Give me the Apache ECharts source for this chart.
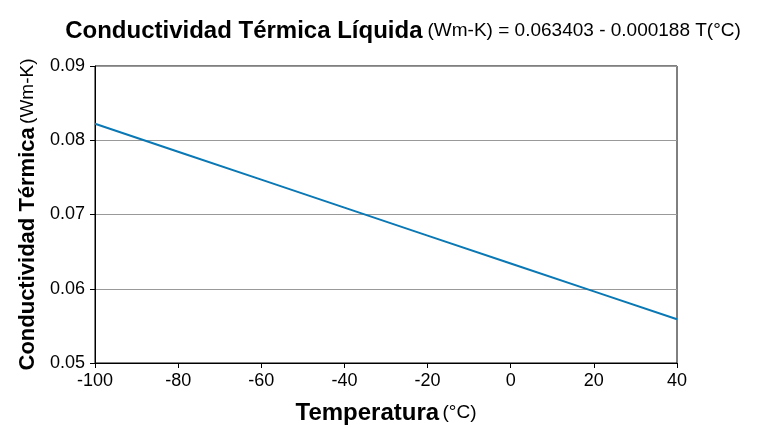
<!DOCTYPE html>
<html><head><meta charset="utf-8">
<script src="https://cdn.jsdelivr.net/npm/echarts@6/dist/echarts.min.js"></script>
<style>html,body{margin:0;padding:0;background:#fff}#c{width:761px;height:428px}</style>
</head><body><div id="c"></div>
<script>
const temps = [-100, -80, -60, -40, -20, 0, 20, 40];
const conductivity = [0.08222, 0.07846, 0.07469, 0.07092, 0.06716, 0.06340, 0.05964, 0.05589];
const xTicks = [-100, -80, -60, -40, -20, 0, 20, 40];
const yTicks = [0.05, 0.06, 0.07, 0.08, 0.09];

const FONT = "'Liberation Sans', Arial, sans-serif";
const chart = echarts.init(document.getElementById('c'));
chart.setOption({
  animation: false,
  textStyle: {fontFamily: FONT},
  title: {
    text: '{b|Conductividad Térmica Líquida} {n|(Wm-K) = 0.063403 - 0.000188 T(°C)}',
    left: 398, top: 14, textAlign: 'center',
    textStyle: {
      fontWeight: 'normal',
      rich: {
        b: {fontFamily: FONT, fontWeight: 'bold', fontSize: 24, color: '#000'},
        n: {fontFamily: FONT, fontWeight: 'normal', fontSize: 19, color: '#000'}
      }
    }
  },
  grid: {left: 95, right: 84, top: 66, bottom: 65, show: true, borderColor: '#000', borderWidth: 1,
    containLabel: false, outerBoundsMode: 'none'},
  xAxis: {
    type: 'value', min: -100, max: 40, interval: 20,
    axisLine: {show: true, onZero: false, lineStyle: {color: '#000', width: 1}},
    axisTick: {show: true, length: 5, lineStyle: {color: '#000'}},
    axisLabel: {color: '#000', fontSize: 18, fontFamily: FONT, margin: 9},
    splitLine: {show: false},
    name: '{b|Temperatura} {n|(°C)}',
    nameLocation: 'middle', nameGap: 38,
    nameTextStyle: {fontWeight: 'normal', rich: {
      b: {fontFamily: FONT, fontWeight: 'bold', fontSize: 24, color: '#000'},
      n: {fontFamily: FONT, fontWeight: 'normal', fontSize: 19, color: '#000'}
    }}
  },
  yAxis: {
    type: 'value', min: 0.05, max: 0.09, interval: 0.01,
    axisLine: {show: true, onZero: false, lineStyle: {color: '#000', width: 1}},
    axisTick: {show: true, length: 5, lineStyle: {color: '#000'}},
    axisLabel: {color: '#000', fontSize: 18, fontFamily: FONT, margin: 10,
      formatter: v => v.toFixed(2)},
    splitLine: {show: true, lineStyle: {color: '#999', width: 1}},
    name: '{b|Conductividad Térmica} {n|(Wm-K)}',
    nameLocation: 'middle', nameGap: 56,
    nameTextStyle: {fontWeight: 'normal', rich: {
      b: {fontFamily: FONT, fontWeight: 'bold', fontSize: 22, color: '#000'},
      n: {fontFamily: FONT, fontWeight: 'normal', fontSize: 19, color: '#000'}
    }}
  },
  series: [{
    type: 'line', data: temps.map((t, i) => [t, conductivity[i]]),
    showSymbol: false, lineStyle: {color: '#0a78b4', width: 2}, silent: true
  }]
});
</script></body></html>
